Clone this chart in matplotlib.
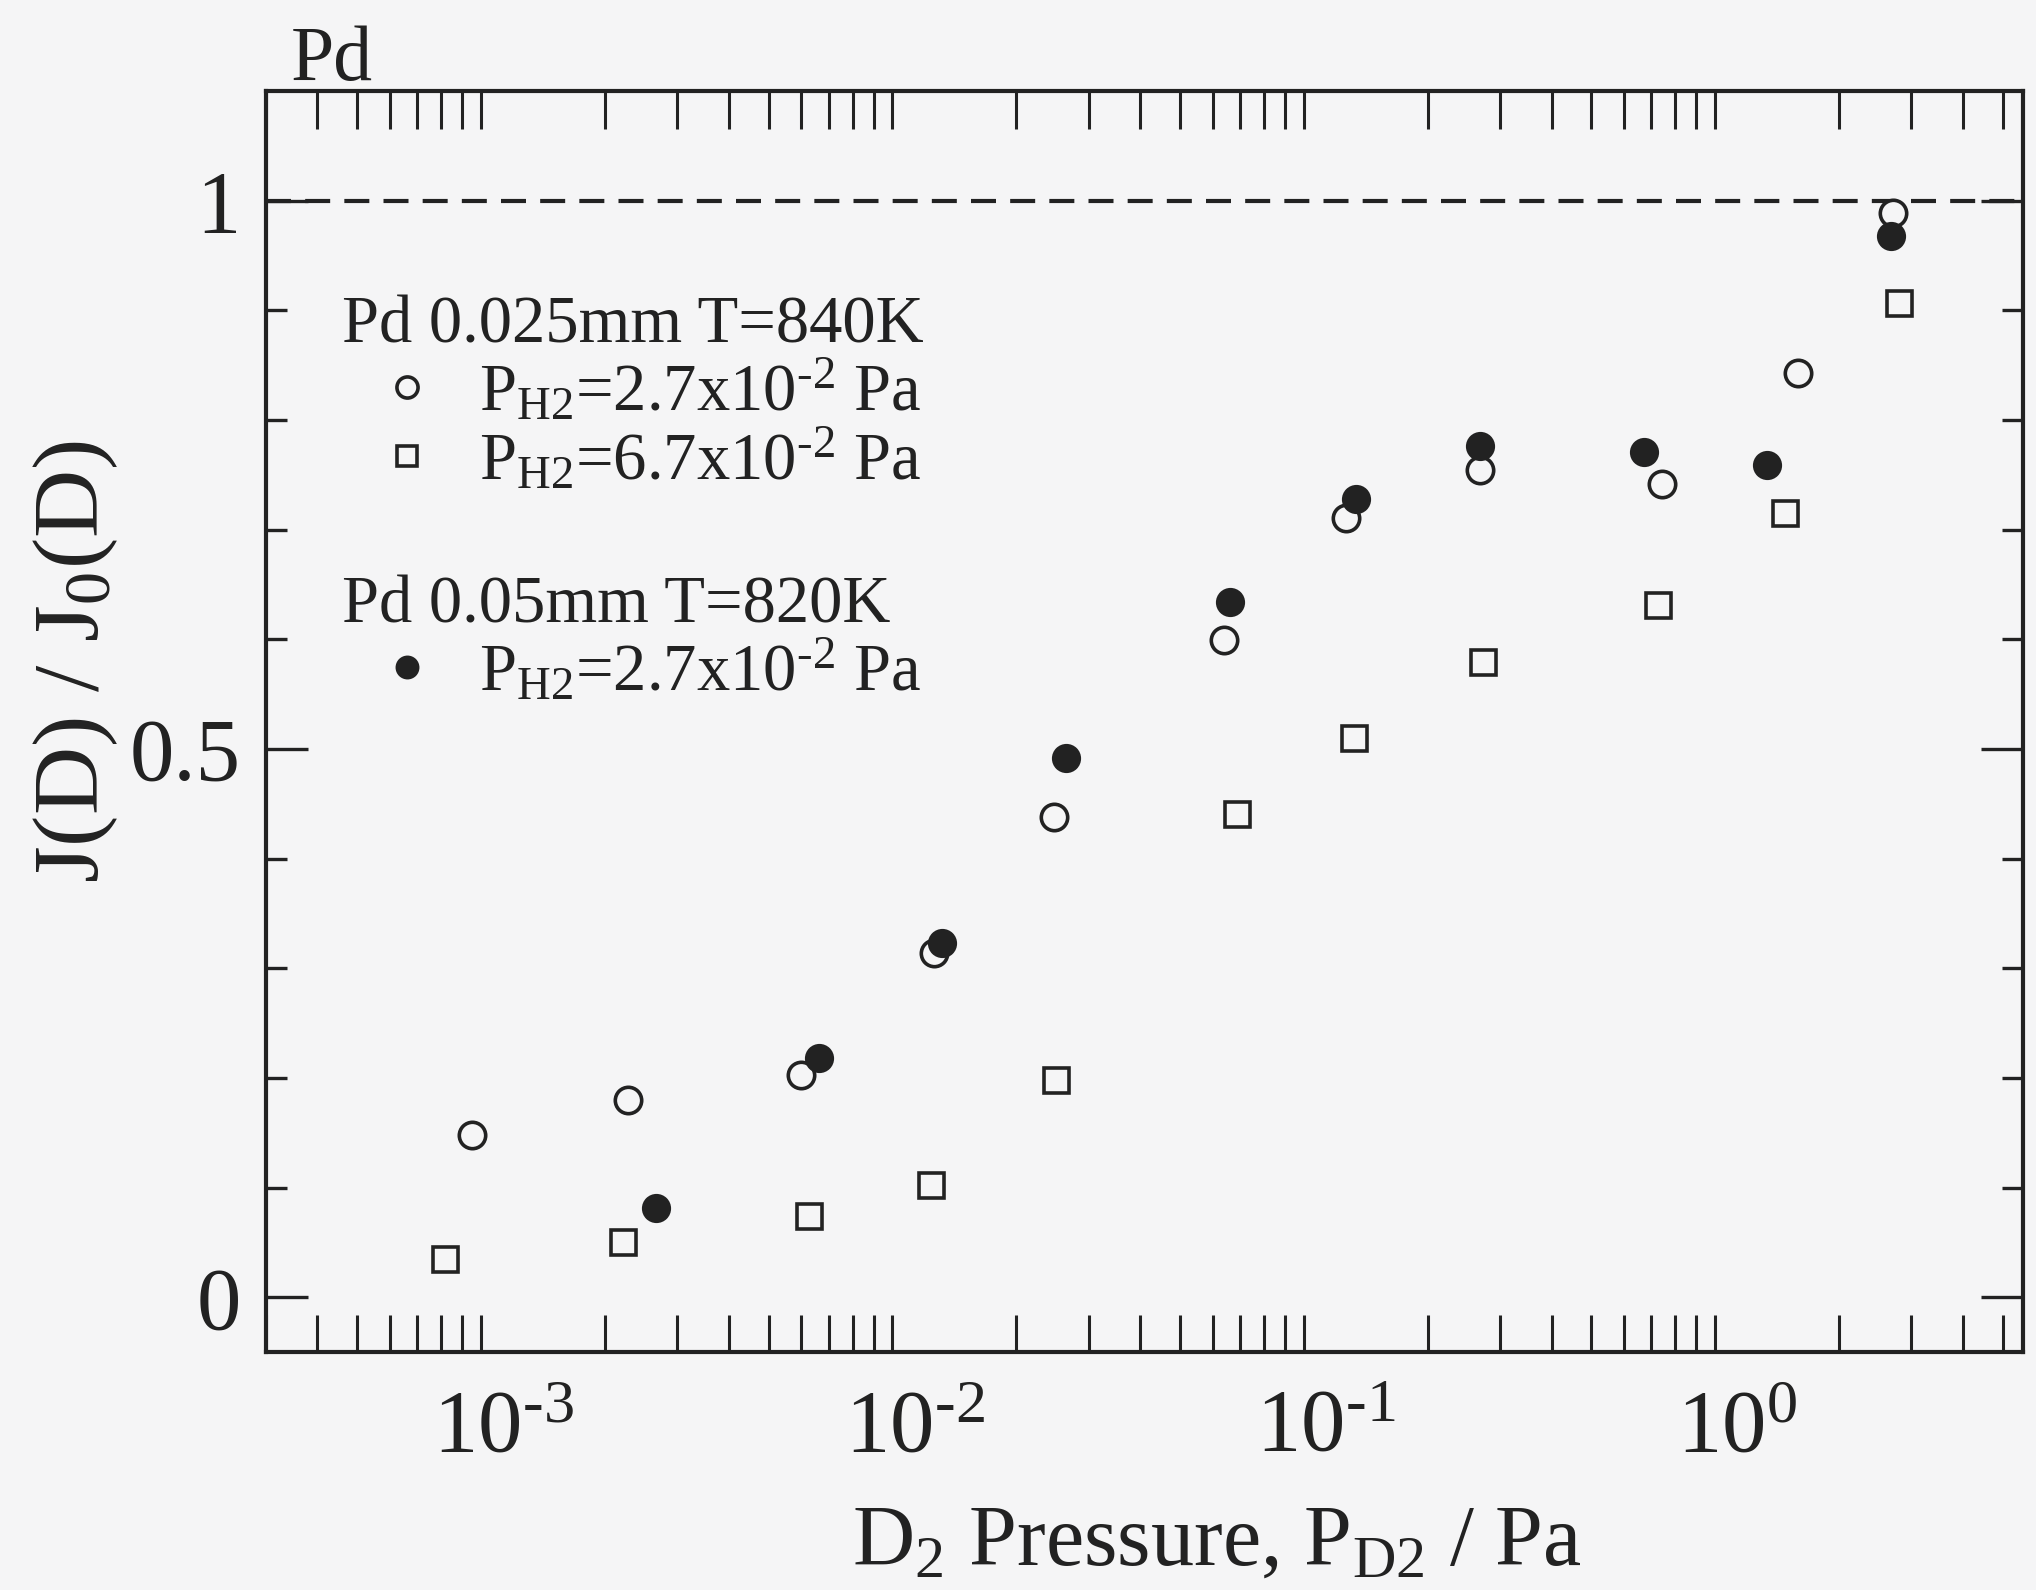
import numpy as np
import matplotlib
matplotlib.use("Agg")
import matplotlib.pyplot as plt
from matplotlib.ticker import LogLocator, FuncFormatter, NullFormatter, FixedLocator
from matplotlib.transforms import ScaledTranslation

plt.rcParams['font.family'] = ['Liberation Serif', 'DejaVu Serif']
plt.rcParams['mathtext.fontset'] = 'custom'
plt.rcParams['mathtext.rm'] = 'Liberation Serif'
plt.rcParams['mathtext.it'] = 'Liberation Serif:italic'
plt.rcParams['mathtext.bf'] = 'Liberation Serif:bold'
plt.rcParams['mathtext.default'] = 'regular'

# ---------------- data ----------------
# Pd 0.025 mm, T = 840 K, P_H2 = 2.7e-2 Pa (open circles)
x_open = [9.5e-4, 2.28e-3, 6.0e-3, 1.26e-2, 2.47e-2, 6.40e-2, 0.1265, 0.2685, 0.743, 1.585, 2.70]
y_open = [0.148, 0.180, 0.203, 0.314, 0.438, 0.599, 0.711, 0.754, 0.742, 0.843, 0.989]

# Pd 0.025 mm, T = 840 K, P_H2 = 6.7e-2 Pa (open squares)
x_square = [8.17e-4, 2.21e-3, 6.27e-3, 1.24e-2, 2.50e-2, 6.89e-2, 0.1322, 0.2725, 0.727, 1.48, 2.79]
y_square = [0.035, 0.050, 0.074, 0.102, 0.1985, 0.441, 0.510, 0.579, 0.631, 0.715, 0.907]

# Pd 0.05 mm, T = 820 K, P_H2 = 2.7e-2 Pa (filled circles)
x_filled = [2.66e-3, 6.62e-3, 1.32e-2, 2.64e-2, 6.61e-2, 0.1336, 0.2687, 0.670, 1.334, 2.67]
y_filled = [0.081, 0.218, 0.323, 0.492, 0.634, 0.728, 0.776, 0.771, 0.759, 0.968]

label_open = r'P$_{H2}$=2.7x10$^{\text{-2}}$ Pa'
label_square = r'P$_{H2}$=6.7x10$^{\text{-2}}$ Pa'
label_filled = r'P$_{H2}$=2.7x10$^{\text{-2}}$ Pa'
title1 = 'Pd 0.025mm T=840K'
title2 = 'Pd 0.05mm T=820K'
y_major = [0, 0.5, 1]
y_major_labels = ['0', '0.5', '1']
y_minor = [0.1, 0.2, 0.3, 0.4, 0.6, 0.7, 0.8, 0.9]
reference_level = 1.0

# ---------------- style ----------------
bg = '#f5f5f6'
ink = '#222222'

fig = plt.figure(figsize=(20.36, 15.90), dpi=100, facecolor=bg)
ax = fig.add_axes([266/2036, 1 - 1352/1590, (2023-266)/2036, (1352-91)/1590])
ax.set_facecolor(bg)

ax.set_xscale('log')
ax.set_xlim(3e-4, 5.6)
ax.set_ylim(-0.05, 1.1)

ax.axhline(reference_level, color=ink, lw=3, ls=(0, (6.0, 3.4)), zorder=1)

h_open, = ax.plot(x_open, y_open, ls='none', marker='o', ms=19, mfc=bg, mec=ink,
                  mew=2.6, zorder=3, label=label_open)
h_sq, = ax.plot(x_square, y_square, ls='none', marker='s', ms=18, mfc=bg, mec=ink,
                mew=2.6, zorder=3, label=label_square)
h_fill, = ax.plot(x_filled, y_filled, ls='none', marker='o', ms=19, mfc=ink, mec=ink,
                  mew=2.0, zorder=4, label=label_filled)

# axes / ticks
for sp in ax.spines.values():
    sp.set_linewidth(3)
    sp.set_color(ink)

ax.xaxis.set_major_locator(LogLocator(base=10, numticks=20))
ax.xaxis.set_minor_locator(LogLocator(base=10, subs=np.arange(2, 10), numticks=50))
ax.xaxis.set_major_formatter(FuncFormatter(
    lambda v, p: r'$10^{\text{%d}}$' % int(round(np.log10(v)))))
ax.xaxis.set_minor_formatter(NullFormatter())

ax.yaxis.set_major_locator(FixedLocator(y_major))
ax.yaxis.set_minor_locator(FixedLocator(y_minor))
ax.set_yticklabels(y_major_labels)

ax.tick_params(axis='x', which='both', direction='in', top=True, bottom=True,
               length=27, width=2.2, color=ink, labelsize=64, pad=26, labelcolor=ink)
ax.tick_params(axis='y', which='major', direction='in', left=True, right=True,
               length=30, width=2.4, color=ink, labelsize=64, pad=18, labelcolor=ink)
ax.tick_params(axis='y', which='minor', direction='in', left=True, right=True,
               length=15, width=2.4, color=ink)

offset = ScaledTranslation(16/72, 0, fig.dpi_scale_trans)
for lab in ax.get_xticklabels():
    lab.set_transform(lab.get_transform() + offset)

ax.set_xlabel(r'D$_2$ Pressure, P$_{D2}$ / Pa', fontsize=62, color=ink)
ax.xaxis.set_label_coords(0.541, -0.121)
ax.set_ylabel(r'J(D) / J$_0$(D)', fontsize=68, color=ink)
ax.yaxis.set_label_coords(-0.083, 0.548)

fig.text(291/2036, 1 - 80/1590, 'Pd', fontsize=56, color=ink, ha='left', va='baseline')

common = dict(loc='upper left', frameon=False, fontsize=48, title_fontsize=48,
              alignment='left', markerscale=0.8, handlelength=1.95, handletextpad=0.1,
              labelspacing=0.03, borderpad=0, borderaxespad=0, labelcolor=ink)
leg1 = ax.legend(handles=[h_open, h_sq], labels=[label_open, label_square], title=title1,
                 bbox_to_anchor=(0.0435, 0.838), **common)
leg1.get_title().set_color(ink)
ax.add_artist(leg1)
leg2 = ax.legend(handles=[h_fill], labels=[label_filled], title=title2,
                 bbox_to_anchor=(0.0435, 0.616), **common)
leg2.get_title().set_color(ink)

fig.savefig('out.png', dpi=100, facecolor=bg)
